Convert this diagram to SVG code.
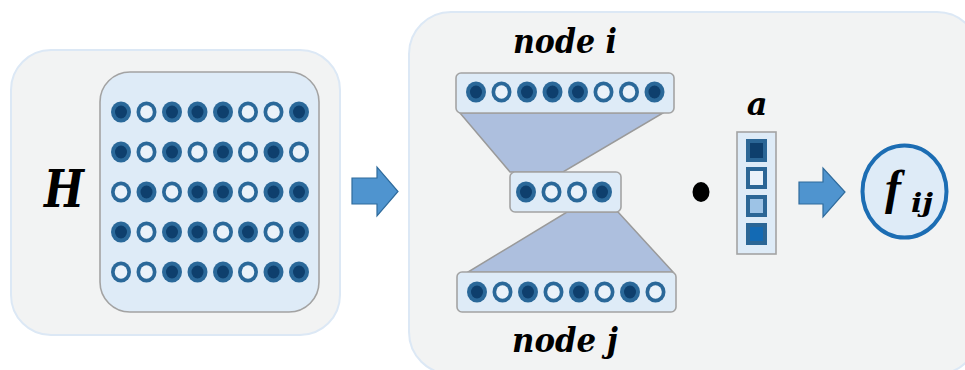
<svg xmlns="http://www.w3.org/2000/svg" xmlns:xlink="http://www.w3.org/1999/xlink" width="965" height="370" viewBox="0 0 965 370">
  <style>
    .panel { fill: #f2f3f3; stroke: #dce8f5; stroke-width: 2; }
    .box { fill: #deebf7; stroke: #a3a3a3; stroke-width: 1.6; }
    .funnel { fill: #adbfde; stroke: #9a9a9a; stroke-width: 1.5; }
    .arrow { fill: #4f94cf; stroke: #2f6b9c; stroke-width: 1.2; }
    .lbl { font-family: "DejaVu Serif", "Liberation Serif", serif; font-weight: bold; font-style: italic; fill: #000; }
    .math { font-family: "Liberation Serif", "DejaVu Serif", serif; font-weight: bold; font-style: italic; fill: #000; }
    .cell { stroke: #2b6696; stroke-width: 4; }
  </style>
  <defs>
    <g id="dotF">
      <ellipse rx="10" ry="10.5" fill="#2a6899"/>
      <ellipse rx="6" ry="6.5" fill="#0e3f6d"/>
    </g>
    <g id="dotO">
      <ellipse rx="10" ry="10.5" fill="#2a6899"/>
      <ellipse rx="6.3" ry="6.8" fill="#eaf2fa"/>
    </g>
  </defs>

  <!-- left panel: embedding matrix H -->
  <g id="panel-H">
    <rect class="panel" x="11" y="50" width="329" height="285" rx="40"/>
    <text class="lbl" x="64" y="207" font-size="53" text-anchor="middle" textLength="40" lengthAdjust="spacingAndGlyphs">H</text>
    <rect class="box" x="100" y="72" width="219" height="240" rx="30"/>
    <!-- row 1 -->
    <use href="#dotF" x="121" y="112"/><use href="#dotO" x="146.5" y="112"/><use href="#dotF" x="172" y="112"/><use href="#dotF" x="197.5" y="112"/>
    <use href="#dotF" x="223" y="112"/><use href="#dotO" x="248" y="112"/><use href="#dotO" x="273.5" y="112"/><use href="#dotF" x="299" y="112"/>
    <!-- row 2 -->
    <use href="#dotF" x="121" y="152"/><use href="#dotO" x="146.5" y="152"/><use href="#dotF" x="172" y="152"/><use href="#dotO" x="197.5" y="152"/>
    <use href="#dotF" x="223" y="152"/><use href="#dotO" x="248" y="152"/><use href="#dotF" x="273.5" y="152"/><use href="#dotO" x="299" y="152"/>
    <!-- row 3 -->
    <use href="#dotO" x="121" y="192"/><use href="#dotF" x="146.5" y="192"/><use href="#dotO" x="172" y="192"/><use href="#dotF" x="197.5" y="192"/>
    <use href="#dotF" x="223" y="192"/><use href="#dotO" x="248" y="192"/><use href="#dotF" x="273.5" y="192"/><use href="#dotF" x="299" y="192"/>
    <!-- row 4 -->
    <use href="#dotF" x="121" y="232"/><use href="#dotO" x="146.5" y="232"/><use href="#dotF" x="172" y="232"/><use href="#dotF" x="197.5" y="232"/>
    <use href="#dotO" x="223" y="232"/><use href="#dotF" x="248" y="232"/><use href="#dotO" x="273.5" y="232"/><use href="#dotF" x="299" y="232"/>
    <!-- row 5 -->
    <use href="#dotO" x="121" y="272"/><use href="#dotO" x="146.5" y="272"/><use href="#dotF" x="172" y="272"/><use href="#dotF" x="197.5" y="272"/>
    <use href="#dotF" x="223" y="272"/><use href="#dotO" x="248" y="272"/><use href="#dotF" x="273.5" y="272"/><use href="#dotF" x="299" y="272"/>
  </g>

  <!-- right panel background -->
  <g id="panel-pair">
    <rect class="panel" x="409" y="12" width="570" height="362" rx="42"/>
  </g>

  <!-- connectors -->
  <g id="connectors">
    <path class="funnel" d="M460,113 L663,113 L563,172 L510,172 Z"/>
    <path class="funnel" d="M567,212 L618,212 L673,272 L468,272 Z"/>
    <path class="arrow" d="M352,178 L377,178 L377,167 L398,191.5 L377,216 L377,204 L352,204 Z"/>
    <path class="arrow" d="M799,182 L823,182 L823,168 L845,192 L823,217 L823,204 L799,204 Z"/>
  </g>

  <!-- node i embedding -->
  <g id="node-i">
    <text class="lbl" x="565" y="53" font-size="33" text-anchor="middle" textLength="104" lengthAdjust="spacingAndGlyphs">node i</text>
    <rect class="box" x="456" y="73" width="218" height="40" rx="5"/>
    <use href="#dotF" x="476" y="92"/><use href="#dotO" x="501.5" y="92"/><use href="#dotF" x="527" y="92"/><use href="#dotF" x="552.5" y="92"/>
    <use href="#dotF" x="578" y="92"/><use href="#dotO" x="603.5" y="92"/><use href="#dotO" x="629" y="92"/><use href="#dotF" x="654.5" y="92"/>
  </g>

  <!-- bottleneck layer -->
  <g id="bottleneck">
    <rect class="box" x="510" y="172" width="111" height="40" rx="5"/>
    <use href="#dotF" x="526" y="192"/><use href="#dotO" x="551.5" y="192"/><use href="#dotO" x="577" y="192"/><use href="#dotF" x="602" y="192"/>
  </g>

  <!-- node j embedding -->
  <g id="node-j">
    <rect class="box" x="457" y="272" width="219" height="40" rx="5"/>
    <use href="#dotF" x="477" y="292"/><use href="#dotO" x="502.5" y="292"/><use href="#dotF" x="528" y="292"/><use href="#dotO" x="553.5" y="292"/>
    <use href="#dotF" x="579" y="292"/><use href="#dotO" x="604.5" y="292"/><use href="#dotF" x="630" y="292"/><use href="#dotO" x="655.5" y="292"/>
    <text class="lbl" x="565" y="352" font-size="33" text-anchor="middle" textLength="106" lengthAdjust="spacingAndGlyphs">node j</text>
  </g>

  <!-- dot product operator -->
  <g id="dot-op">
    <ellipse cx="701" cy="192" rx="8.5" ry="10" fill="#000"/>
  </g>

  <!-- attention vector a -->
  <g id="vector-a">
    <text class="lbl" x="757" y="115" font-size="32" text-anchor="middle">a</text>
    <rect class="box" x="737" y="132" width="39" height="122" rx="0"/>
    <rect class="cell" x="748" y="141" width="17" height="19" fill="#0e3f6d"/>
    <rect class="cell" x="748" y="169" width="17" height="18" fill="#eaf2fa"/>
    <rect class="cell" x="748" y="197" width="17" height="18" fill="#9dc3e6"/>
    <rect class="cell" x="748" y="225" width="17" height="18" fill="#136ab4"/>
  </g>

  <!-- score f_ij -->
  <g id="score-f">
    <ellipse cx="904.5" cy="191.5" rx="42" ry="46" fill="#deebf7" stroke="#1c6db3" stroke-width="4"/>
    <text class="math" x="885" y="204" font-size="48">f</text>
    <text class="lbl" x="911" y="212" font-size="26" textLength="22" lengthAdjust="spacingAndGlyphs">ij</text>
  </g>
</svg>
